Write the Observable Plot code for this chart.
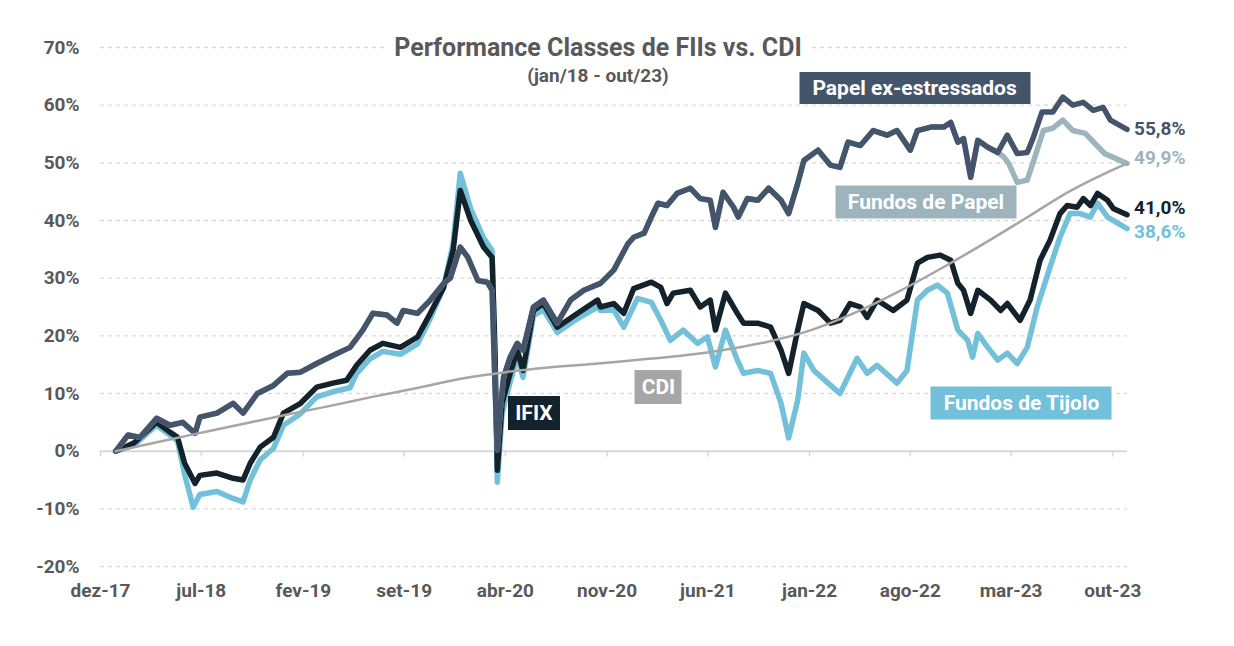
<!DOCTYPE html>
<html>
<head>
<meta charset="utf-8">
<script src="https://cdn.jsdelivr.net/npm/d3@7"></script>
<script src="https://cdn.jsdelivr.net/npm/@observablehq/plot@0.6"></script>
<style>
  html, body { margin: 0; padding: 0; background: #fff; }
  #wrap { position: relative; width: 1234px; height: 646px; font-family: Roboto, "Liberation Sans", sans-serif; }
  .title { position: absolute; transform: translate(-50%, -50%); color: #595959; font-weight: bold; white-space: nowrap; padding: 0 6px; line-height: 1.1; }
  .box { position: absolute; transform: translate(-50%, -50%); color: #fff; font-weight: bold; font-size: 21px; display: flex; align-items: center; justify-content: center; white-space: nowrap; }
</style>
</head>
<body>
<div id="wrap"></div>
<script>
// ---------------- DATA (values in %) ----------------
const exDates = ["2018-01-02","2018-01-28","2018-02-22","2018-03-29","2018-04-26","2018-05-23","2018-06-18","2018-06-28","2018-08-03","2018-09-06","2018-09-27","2018-10-27","2018-11-30","2018-12-29","2019-01-26","2019-03-01","2019-04-04","2019-05-10","2019-06-06","2019-06-27","2019-07-27","2019-08-17","2019-08-30","2019-09-29","2019-10-26","2019-11-23","2019-12-07","2019-12-28","2020-01-13","2020-02-03","2020-02-23","2020-03-04","2020-03-10","2020-03-15","2020-03-21","2020-03-28","2020-04-11","2020-04-26","2020-05-08","2020-05-30","2020-06-20","2020-07-19","2020-08-16","2020-09-13","2020-10-18","2020-11-15","2020-12-15","2020-12-27","2021-01-18","2021-02-02","2021-02-16","2021-03-07","2021-03-28","2021-04-25","2021-05-16","2021-06-06","2021-06-17","2021-07-03","2021-07-25","2021-08-04","2021-08-23","2021-09-14","2021-10-07","2021-11-02","2021-11-18","2021-12-07","2021-12-20","2022-01-19","2022-02-14","2022-03-06","2022-03-23","2022-04-18","2022-05-15","2022-06-13","2022-07-04","2022-08-01","2022-08-16","2022-09-13","2022-10-10","2022-10-25","2022-11-09","2022-11-21","2022-12-06","2022-12-21","2023-01-11","2023-02-01","2023-02-21","2023-03-14","2023-04-04","2023-04-16","2023-05-05","2023-05-28","2023-06-18","2023-07-09","2023-07-31","2023-08-21","2023-09-11","2023-09-26","2023-10-31"];
const exValues = [0,2.8,2.4,5.7,4.5,5.0,3.1,5.9,6.6,8.3,6.6,10.0,11.4,13.5,13.7,15.2,16.6,18.0,21.0,23.9,23.6,22.2,24.4,23.9,26.2,29.1,30.0,35.4,33.6,29.6,29.3,27.9,11.8,0.2,7.0,12.8,16.3,18.7,17.5,25.0,26.2,22.2,26.2,27.9,29.1,31.4,36.0,37.1,37.8,40.6,43.0,42.6,44.7,45.6,43.8,43.5,38.8,44.9,42.3,40.6,43.8,43.5,45.6,43.5,41.2,46.4,50.4,52.2,49.6,49.2,53.6,53.0,55.6,54.8,55.6,52.2,55.6,56.2,56.2,57.0,53.6,54.2,47.5,53.9,52.7,51.8,54.8,51.6,51.8,54.2,58.8,58.8,61.4,60.0,60.5,59.1,59.6,57.4,55.8];

const papelDates = ["2018-01-02","2018-01-28","2018-02-22","2018-03-29","2018-04-26","2018-05-23","2018-06-18","2018-06-28","2018-08-03","2018-09-06","2018-09-27","2018-10-27","2018-11-30","2018-12-29","2019-01-26","2019-03-01","2019-04-04","2019-05-10","2019-06-06","2019-06-27","2019-07-27","2019-08-17","2019-08-30","2019-09-29","2019-10-26","2019-11-23","2019-12-07","2019-12-28","2020-01-13","2020-02-03","2020-02-23","2020-03-04","2020-03-10","2020-03-15","2020-03-21","2020-03-28","2020-04-11","2020-04-26","2020-05-08","2020-05-30","2020-06-20","2020-07-19","2020-08-16","2020-09-13","2020-10-18","2020-11-15","2020-12-15","2020-12-27","2021-01-18","2021-02-02","2021-02-16","2021-03-07","2021-03-28","2021-04-25","2021-05-16","2021-06-06","2021-06-17","2021-07-03","2021-07-25","2021-08-04","2021-08-23","2021-09-14","2021-10-07","2021-11-02","2021-11-18","2021-12-07","2021-12-20","2022-01-19","2022-02-14","2022-03-06","2022-03-23","2022-04-18","2022-05-15","2022-06-13","2022-07-04","2022-08-01","2022-08-16","2022-09-13","2022-10-10","2022-10-25","2022-11-09","2022-11-21","2022-12-06","2022-12-21","2023-01-11","2023-02-01","2023-02-14","2023-02-24","2023-03-14","2023-04-04","2023-04-20","2023-05-08","2023-05-28","2023-06-18","2023-07-09","2023-08-04","2023-08-24","2023-09-14","2023-10-31"];
const papelValues = [0,2.8,2.4,5.7,4.5,5.0,3.1,5.9,6.6,8.3,6.6,10.0,11.4,13.5,13.7,15.2,16.6,18.0,21.0,23.9,23.6,22.2,24.4,23.9,26.2,29.1,30.0,35.4,33.6,29.6,29.3,27.9,11.8,0.2,7.0,12.8,16.3,18.7,17.5,25.0,26.2,22.2,26.2,27.9,29.1,31.4,36.0,37.1,37.8,40.6,43.0,42.6,44.7,45.6,43.8,43.5,38.8,44.9,42.3,40.6,43.8,43.5,45.6,43.5,41.2,46.4,50.4,52.2,49.6,49.2,53.6,53.0,55.6,54.8,55.6,52.2,55.6,56.2,56.2,57.0,53.6,54.2,47.5,53.9,52.7,51.8,51.0,49.9,46.6,47.0,51.0,55.6,56.0,57.4,55.6,55.1,53.4,51.6,49.9];

const ifixDates = ["2018-01-02","2018-02-09","2018-03-29","2018-04-26","2018-05-12","2018-05-27","2018-06-18","2018-06-28","2018-08-03","2018-09-06","2018-09-27","2018-10-12","2018-11-02","2018-11-30","2018-12-21","2019-01-26","2019-03-01","2019-04-04","2019-05-03","2019-05-24","2019-06-21","2019-07-18","2019-08-24","2019-09-29","2019-10-26","2019-11-23","2019-12-13","2019-12-28","2020-01-19","2020-02-15","2020-03-04","2020-03-10","2020-03-15","2020-03-25","2020-04-11","2020-04-26","2020-05-08","2020-05-30","2020-06-20","2020-07-19","2020-08-31","2020-10-12","2020-10-18","2020-11-15","2020-12-06","2020-12-27","2021-02-02","2021-02-22","2021-03-07","2021-03-20","2021-04-25","2021-05-16","2021-06-06","2021-06-17","2021-07-08","2021-08-02","2021-08-15","2021-09-14","2021-10-11","2021-11-02","2021-11-18","2021-12-07","2021-12-20","2022-01-19","2022-02-14","2022-03-06","2022-03-27","2022-04-18","2022-05-02","2022-05-23","2022-06-26","2022-07-25","2022-08-16","2022-09-06","2022-10-03","2022-10-25","2022-11-09","2022-11-21","2022-12-06","2022-12-21","2023-01-17","2023-02-07","2023-02-21","2023-03-20","2023-04-10","2023-05-01","2023-05-22","2023-06-12","2023-06-27","2023-07-18","2023-07-31","2023-08-15","2023-08-30","2023-09-20","2023-10-02","2023-10-31"];
const ifixValues = [0,1.4,5.0,3.3,2.4,-2.1,-5.6,-4.2,-3.8,-4.7,-5.0,-2.1,0.7,2.4,6.6,8.3,11.1,11.8,12.3,14.9,17.5,18.7,18.0,19.8,23.9,28.4,34.8,45.2,40.0,35.4,33.6,17.5,-3.3,8.3,13.5,17.5,14.0,24.4,25.6,21.5,23.9,26.2,25.0,25.6,23.9,28.2,29.3,28.4,25.6,27.4,27.9,25.0,26.2,21.0,27.4,23.9,22.2,22.2,21.5,17.5,13.5,21.0,25.6,24.4,22.2,22.7,25.6,25.0,23.2,26.2,24.4,26.2,32.6,33.6,34.0,33.1,29.1,27.9,23.9,27.9,26.2,24.4,25.6,22.7,26.2,33.1,36.6,41.2,42.6,42.3,43.8,42.6,44.7,43.5,42.1,41.0];

const tijoloDates = ["2018-01-02","2018-02-09","2018-03-29","2018-04-26","2018-05-12","2018-05-27","2018-06-14","2018-06-28","2018-08-03","2018-09-06","2018-09-27","2018-10-12","2018-11-02","2018-11-30","2018-12-21","2019-01-26","2019-03-01","2019-04-04","2019-05-10","2019-05-24","2019-06-21","2019-07-18","2019-08-24","2019-09-29","2019-10-26","2019-11-23","2019-12-13","2019-12-28","2020-01-19","2020-02-15","2020-03-04","2020-03-10","2020-03-15","2020-03-25","2020-04-11","2020-04-26","2020-05-08","2020-05-30","2020-06-20","2020-07-19","2020-08-31","2020-10-12","2020-10-18","2020-11-15","2020-12-06","2021-01-04","2021-02-02","2021-02-22","2021-03-14","2021-04-10","2021-05-10","2021-05-31","2021-06-17","2021-07-08","2021-08-02","2021-08-15","2021-09-14","2021-10-11","2021-11-02","2021-11-18","2021-12-07","2021-12-20","2022-01-10","2022-02-09","2022-03-06","2022-04-11","2022-05-02","2022-05-23","2022-07-04","2022-07-25","2022-08-16","2022-09-06","2022-09-27","2022-10-18","2022-11-09","2022-11-30","2022-12-10","2022-12-21","2023-01-11","2023-02-01","2023-02-21","2023-03-14","2023-04-04","2023-04-25","2023-05-22","2023-06-12","2023-07-03","2023-07-24","2023-08-15","2023-08-30","2023-09-20","2023-10-31"];
const tijoloValues = [0,1.0,4.5,2.8,1.8,-4.0,-9.7,-7.5,-7.0,-8.2,-8.8,-5.0,-1.5,0.5,4.5,6.5,9.4,10.3,11.0,13.5,16.0,17.3,16.8,18.6,23.0,28.4,36.0,48.2,42.0,37.0,34.8,16.0,-5.4,6.5,12.0,16.5,12.8,23.5,24.5,20.6,23.0,25.0,24.4,24.5,21.5,26.5,25.8,22.7,19.2,21.0,18.7,19.8,14.6,21.0,15.8,13.5,14.0,13.5,8.3,2.3,8.8,17.0,14.0,11.8,10.0,16.1,13.5,14.9,11.8,14.0,26.2,27.9,28.8,27.4,21.0,19.2,16.3,20.4,18.0,15.8,17.0,15.2,18.0,25.0,31.9,37.1,41.2,41.2,40.6,43.0,40.6,38.6];

const cdiDates = ["2018-01-02","2018-04-01","2018-07-01","2018-10-01","2019-01-01","2019-04-01","2019-07-01","2019-10-01","2020-01-01","2020-04-01","2020-07-01","2020-10-01","2021-01-01","2021-04-01","2021-07-01","2021-10-01","2022-01-01","2022-04-01","2022-07-01","2022-10-01","2023-01-01","2023-04-01","2023-07-01","2023-10-31"];
const cdiValues = [0,1.6,3.2,4.8,6.4,7.9,9.5,11.0,12.6,13.7,14.5,15.1,15.8,16.5,17.5,18.9,20.9,23.8,27.4,31.5,35.9,40.4,45.0,49.9];

const yTicks = [-20,-10,0,10,20,30,40,50,60,70];
const xTickDates = ["2017-12-01","2018-07-01","2019-02-01","2019-09-01","2020-04-01","2020-11-01","2021-06-01","2022-01-01","2022-08-01","2023-03-01","2023-10-01"];
const xTickLabels = ["dez-17","jul-18","fev-19","set-19","abr-20","nov-20","jun-21","jan-22","ago-22","mar-23","out-23"];

const endLabels = ["55,8%","49,9%","41,0%","38,6%"];
const boxNames = ["Papel ex-estressados","Fundos de Papel","IFIX","CDI","Fundos de Tijolo"];
const boxDates = ["2022-08-11","2022-09-04","2020-06-01","2021-02-18","2023-03-24"];
const boxValues = [62.9,43.2,6.6,11.1,8.3];

// ---------------- STYLES ----------------
const colors = {ex: "#44546a", papel: "#9db4bd", ifix: "#13222b", tijolo: "#72c0da", cdi: "#a6a6a6"};
const boxStyle = [
  {bg: colors.ex, w: 231, h: 32},
  {bg: colors.papel, w: 181, h: 33},
  {bg: colors.ifix, w: 52, h: 34},
  {bg: colors.cdi, w: 47, h: 34},
  {bg: colors.tijolo, w: 181, h: 33}
];
const endNudge = [0, -6, -7, 3];

// ---------------- BUILD ----------------
const parse = d3.utcParse("%Y-%m-%d");
const toRows = (dates, values) => dates.map((d, i) => ({date: parse(d), value: values[i]}));
const ex = toRows(exDates, exValues);
const papel = toRows(papelDates, papelValues);
const ifix = toRows(ifixDates, ifixValues);
const tijolo = toRows(tijoloDates, tijoloValues);
const cdi = toRows(cdiDates, cdiValues);
const ticks = xTickDates.map(parse);
const tickLabelMap = new Map(ticks.map((d, i) => [+d, xTickLabels[i]]));

const seriesEnds = [ex, papel, ifix, tijolo].map(s => s[s.length - 1]);
const endColors = [colors.ex, colors.papel, colors.ifix, colors.tijolo];
const endMarks = seriesEnds.map((row, i) =>
  Plot.text([row], {x: "date", y: "value", text: () => endLabels[i], fill: endColors[i], dx: 7, dy: endNudge[i],
    textAnchor: "start", fontSize: 19, fontWeight: "bold"})
);

const plot = Plot.plot({
  width: 1234,
  height: 646,
  marginTop: 47,
  marginBottom: 80,
  marginLeft: 100,
  marginRight: 107,
  style: {fontFamily: "Roboto, sans-serif", fontSize: "19px", fontWeight: "bold", color: "#595959", background: "#fff", overflow: "visible"},
  x: {type: "utc", domain: [parse("2017-12-01"), parse("2023-11-01")], label: null},
  y: {domain: [-20, 70], label: null},
  marks: [
    Plot.ruleY(yTicks.filter(v => v !== 0), {stroke: "#d9d9d9", strokeWidth: 1.3, strokeDasharray: "4,4"}),
    Plot.ruleY([0], {stroke: "#d9d9d9", strokeWidth: 2}),
    Plot.ruleX(ticks, {x: d => d, y1: 0, y2: -1.0, stroke: "#d9d9d9", strokeWidth: 1.5}),
    Plot.line(tijolo, {x: "date", y: "value", stroke: colors.tijolo, strokeWidth: 5.5}),
    Plot.line(ifix, {x: "date", y: "value", stroke: colors.ifix, strokeWidth: 5.5}),
    Plot.line(papel, {x: "date", y: "value", stroke: colors.papel, strokeWidth: 5.5}),
    Plot.line(ex, {x: "date", y: "value", stroke: colors.ex, strokeWidth: 5.5}),
    Plot.line(cdi, {x: "date", y: "value", stroke: colors.cdi, strokeWidth: 2.5, curve: "monotone-x"}),
    Plot.axisY(yTicks, {tickFormat: d => d + "%", tickSize: 0, tickPadding: 21, fontSize: 19, label: null}),
    Plot.axisX(ticks, {tickFormat: d => tickLabelMap.get(+d), tickSize: 0, tickPadding: 17, fontSize: 19, label: null}),
    ...endMarks
  ]
});

const wrap = document.getElementById("wrap");
wrap.appendChild(plot);
const sx = plot.scale("x"), sy = plot.scale("y");

// title & subtitle
const title = document.createElement("div");
title.className = "title";
title.style.left = "598px"; title.style.top = "48px"; title.style.fontSize = "25px"; title.style.background = "#fff";
title.textContent = "Performance Classes de FIIs vs. CDI";
wrap.appendChild(title);
const sub = document.createElement("div");
sub.className = "title";
sub.style.left = "598px"; sub.style.top = "76px"; sub.style.fontSize = "19px";
sub.textContent = "(jan/18 - out/23)";
wrap.appendChild(sub);

// series name boxes positioned through the chart scales
boxNames.forEach((name, i) => {
  const b = document.createElement("div");
  b.className = "box";
  b.style.left = sx.apply(parse(boxDates[i])) + "px";
  b.style.top = sy.apply(boxValues[i]) + "px";
  b.style.width = boxStyle[i].w + "px";
  b.style.height = boxStyle[i].h + "px";
  b.style.background = boxStyle[i].bg;
  b.textContent = name;
  wrap.appendChild(b);
});
</script>
</body>
</html>
